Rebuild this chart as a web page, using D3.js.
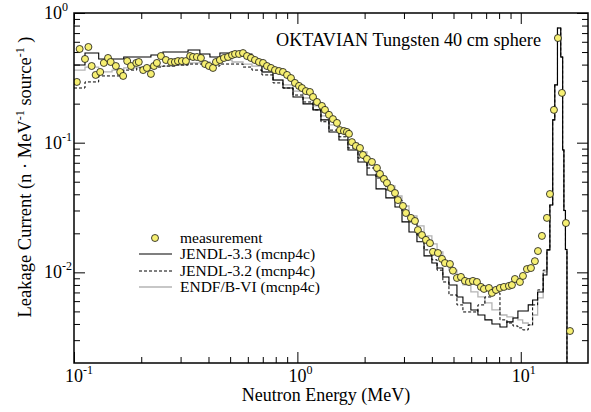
<!DOCTYPE html>
<html>
<head>
<meta charset="utf-8">
<script src="https://cdn.jsdelivr.net/npm/d3@7"></script>
<style>
body { margin: 0; background: #fff; }
text { font-family: "Liberation Serif", "Times New Roman", serif; fill: #000; }
</style>
</head>
<body>
<script>
// measured leakage spectrum (MeV, n/MeV/source)
var measE = [0.103, 0.106, 0.112, 0.116, 0.120, 0.125, 0.131, 0.136, 0.142, 0.146,
  0.154, 0.161, 0.166, 0.173, 0.180, 0.190, 0.195, 0.204, 0.212, 0.221,
  0.228, 0.235, 0.245, 0.258, 0.272, 0.283, 0.292, 0.304, 0.317, 0.331,
  0.341, 0.355, 0.370, 0.386, 0.402, 0.419, 0.432, 0.450, 0.469, 0.489,
  0.510, 0.526, 0.548, 0.571, 0.595, 0.620, 0.646, 0.673, 0.702, 0.731,
  0.762, 0.794, 0.827, 0.862, 0.899, 0.936, 0.975, 1.017, 1.048, 1.092,
  1.138, 1.175, 1.224, 1.288, 1.329, 1.385, 1.443, 1.504, 1.551, 1.616,
  1.667, 1.702, 1.755, 1.829, 1.906, 1.966, 2.049, 2.157, 2.271, 2.343,
  2.441, 2.518, 2.624, 2.735, 2.820, 2.969, 3.062, 3.224, 3.360, 3.465,
  3.612, 3.764, 3.923, 4.046, 4.259, 4.439, 4.578, 4.819, 4.970, 5.179,
  5.398, 5.625, 5.861, 6.108, 6.366, 6.634, 6.843, 7.204, 7.430, 7.743,
  8.068, 8.409, 8.854, 9.131, 9.417, 9.915, 10.23, 10.66, 11.11, 11.57,
  11.94, 12.44, 13.10, 13.51, 14.08, 14.67, 15.29, 15.93, 16.61];
var measY = [0.294, 0.528, 0.442, 0.547, 0.390, 0.333, 0.351, 0.412, 0.450, 0.419,
  0.390, 0.351, 0.327, 0.426, 0.390, 0.412, 0.419, 0.363, 0.377, 0.339,
  0.390, 0.412, 0.466, 0.434, 0.419, 0.419, 0.426, 0.426, 0.426, 0.466,
  0.458, 0.458, 0.450, 0.404, 0.390, 0.377, 0.419, 0.434, 0.450, 0.458,
  0.474, 0.483, 0.483, 0.491, 0.466, 0.450, 0.434, 0.419, 0.412, 0.390,
  0.377, 0.363, 0.357, 0.351, 0.333, 0.315, 0.289, 0.274, 0.264, 0.250,
  0.246, 0.225, 0.206, 0.192, 0.179, 0.164, 0.152, 0.142, 0.125, 0.123,
  0.121, 0.117, 0.101, 0.0943, 0.0910, 0.0804, 0.0749, 0.0710, 0.0638, 0.0574,
  0.0525, 0.0489, 0.0447, 0.0409, 0.0361, 0.0325, 0.0287, 0.0263, 0.0249, 0.0212,
  0.0194, 0.0178, 0.0168, 0.0144, 0.0141, 0.0127, 0.0118, 0.0116, 0.0103, 0.00905,
  0.00922, 0.00859, 0.00843, 0.00859, 0.00843, 0.00772, 0.00745, 0.00758, 0.00694, 0.00732,
  0.00758, 0.00772, 0.00786, 0.00799, 0.00889, 0.00843, 0.00938, 0.0106, 0.0108, 0.0122,
  0.0146, 0.0191, 0.0263, 0.0402, 0.179, 0.641, 0.242, 0.0240, 0.00353];

// energy bin edges of the calculated spectra
var binEdges = [0.1, 0.112, 0.129, 0.148, 0.167, 0.191, 0.221, 0.25, 0.283, 0.324,
  0.366, 0.406, 0.45, 0.51, 0.571, 0.626, 0.694, 0.778, 0.862, 0.956,
  1.06, 1.175, 1.275, 1.385, 1.535, 1.684, 1.867, 2.05, 2.25, 2.49,
  2.735, 2.94, 3.16, 3.43, 3.69, 4.0, 4.22, 4.48, 4.77, 5.18,
  5.51, 5.98, 6.43, 6.91, 7.43, 8.07, 8.67, 9.23, 9.71, 10.2,
  10.8, 11.3, 11.9, 12.6, 13.1, 13.5, 13.9, 14.2, 14.6, 15.1,
  15.4, 15.6, 15.85, 16.1];

var jendl33 = [0.397, 0.491, 0.442, 0.442, 0.458, 0.458, 0.474, 0.500, 0.500, 0.519,
  0.483, 0.458, 0.491, 0.500, 0.483, 0.430, 0.351, 0.304, 0.264, 0.225,
  0.199, 0.179, 0.150, 0.121, 0.105, 0.0879, 0.0710, 0.0564, 0.0440, 0.0375,
  0.0319, 0.0245, 0.0205, 0.0172, 0.0134, 0.0118, 0.0108, 0.00922, 0.00800, 0.00646,
  0.00581, 0.00513, 0.00469, 0.00430, 0.00400, 0.00379, 0.00415, 0.00445, 0.00504, 0.00504,
  0.00561, 0.00612, 0.00706, 0.00955, 0.0149, 0.0331, 0.150, 0.279, 0.766, 0.458,
  0.088, 0.030, 0.015];
var jendl32 = [0.264, 0.294, 0.327, 0.327, 0.363, 0.377, 0.383, 0.390, 0.397, 0.404,
  0.404, 0.390, 0.404, 0.404, 0.383, 0.363, 0.333, 0.289, 0.264, 0.233,
  0.206, 0.179, 0.145, 0.125, 0.111, 0.0910, 0.0761, 0.0638, 0.0534, 0.0432,
  0.0361, 0.0292, 0.0245, 0.0194, 0.0149, 0.0125, 0.0104, 0.00843, 0.00669, 0.00561,
  0.00495, 0.00495, 0.00561, 0.00646, 0.00694, 0.00430, 0.00407, 0.00386, 0.00373, 0.00360,
  0.00393, 0.00561, 0.00732, 0.0104, 0.0149, 0.0331, 0.150, 0.279, 0.766, 0.458,
  0.088, 0.030, 0.015];
var endfb6 = [0.363, 0.383, 0.351, 0.363, 0.377, 0.383, 0.390, 0.390, 0.397, 0.412,
  0.419, 0.404, 0.434, 0.419, 0.404, 0.390, 0.351, 0.304, 0.279, 0.250,
  0.221, 0.192, 0.161, 0.137, 0.121, 0.0995, 0.0848, 0.0673, 0.0553, 0.0464,
  0.0388, 0.0325, 0.0272, 0.0228, 0.0191, 0.0166, 0.0144, 0.0120, 0.0104, 0.00874,
  0.00800, 0.00706, 0.00646, 0.00581, 0.00513, 0.00469, 0.00453, 0.00445, 0.00430, 0.00407,
  0.00393, 0.00469, 0.00635, 0.0101, 0.0149, 0.0331, 0.150, 0.279, 0.766, 0.458,
  0.088, 0.030, 0.015];

var xMajor = [0.1, 1, 10];
var xMajorExp = ["-1", "0", "1"];
var yMajor = [1, 0.1, 0.01];
var yMajorExp = ["0", "-1", "-2"];

var w = 591;
var h = 412;
var pLeft = 74, pRight = 588, pTop = 13, pBottom = 363;

var x = d3.scaleLog().domain([0.1, 20]).range([pLeft, pRight]);
var y = d3.scaleLog().domain([0.002, 1]).range([pBottom, pTop]);

var svg = d3.select("body")
  .append("svg")
  .attr("width", w)
  .attr("height", h);

svg.append("clipPath")
  .attr("id", "plotclip")
  .append("rect")
  .attr("x", pLeft)
  .attr("y", pTop)
  .attr("width", pRight - pLeft)
  .attr("height", pBottom - pTop);

// minor ticks 2..9 per decade inside a domain
function minors(dom) {
  var t = [];
  for (var d = Math.pow(10, Math.floor(Math.log10(dom[0]) + 1e-9)); d < dom[1]; d *= 10) {
    for (var m = 2; m <= 9; m++) {
      var v = m * d;
      if (v > dom[0] * 1.0001 && v < dom[1] * 0.9999) t.push(v);
    }
  }
  return t;
}
var xMinor = minors(x.domain());
var yMinor = minors(y.domain());

function tickAxis(axis, vals, size) {
  return axis.tickValues(vals).tickSize(-size).tickFormat("").tickSizeOuter(0);
}
var axes = [
  [function() { return d3.axisBottom(x); }, "translate(0," + pBottom + ")", xMajor, xMinor],
  [function() { return d3.axisTop(x); }, "translate(0," + pTop + ")", xMajor, xMinor],
  [function() { return d3.axisLeft(y); }, "translate(" + pLeft + ",0)", yMajor, yMinor],
  [function() { return d3.axisRight(y); }, "translate(" + pRight + ",0)", yMajor, yMinor]
];
axes.forEach(function(a) {
  var g1 = svg.append("g").attr("transform", a[1]).call(tickAxis(a[0](), a[2], 11));
  g1.select(".domain").remove();
  var g2 = svg.append("g").attr("transform", a[1]).call(tickAxis(a[0](), a[3], 6));
  g2.select(".domain").remove();
});
svg.selectAll(".tick line").attr("stroke", "#000").attr("stroke-width", 1);

// histograms
function stepData(vals) {
  var pts = vals.map(function(v, i) { return [binEdges[i], v]; });
  var last = binEdges[binEdges.length - 1];
  pts.push([last, vals[vals.length - 1]]);
  pts.push([last, y.domain()[0] * 0.5]);
  return pts;
}
var line = d3.line()
  .x(function(d) { return x(d[0]); })
  .y(function(d) { return y(d[1]); })
  .curve(d3.curveStepAfter);

var series = [
  { name: "ENDF/B-VI (mcnp4c)", vals: endfb6, stroke: "#b4b4b4", width: 1.3, dash: null },
  { name: "JENDL-3.2 (mcnp4c)", vals: jendl32, stroke: "#000", width: 1, dash: "3,2" },
  { name: "JENDL-3.3 (mcnp4c)", vals: jendl33, stroke: "#000", width: 1.1, dash: null }
];
var plot = svg.append("g").attr("clip-path", "url(#plotclip)");
series.forEach(function(s) {
  plot.append("path")
    .attr("d", line(stepData(s.vals)))
    .attr("fill", "none")
    .attr("stroke", s.stroke)
    .attr("stroke-width", s.width)
    .attr("stroke-dasharray", s.dash);
});

plot.selectAll("circle")
  .data(measE)
  .enter()
  .append("circle")
  .attr("cx", function(d) { return x(d); })
  .attr("cy", function(d, i) { return y(measY[i]); })
  .attr("r", 3.5)
  .attr("fill", "#f6ef72")
  .attr("stroke", "#111")
  .attr("stroke-width", 0.8);

// frame
svg.append("rect")
  .attr("x", pLeft)
  .attr("y", pTop)
  .attr("width", pRight - pLeft)
  .attr("height", pBottom - pTop)
  .attr("fill", "none")
  .attr("stroke", "#000")
  .attr("stroke-width", 1.5);

// tick labels
xMajor.forEach(function(v, i) {
  var t = svg.append("text")
    .attr("x", x(v) - 9)
    .attr("y", 382)
    .attr("font-size", "18px")
    .text("10");
  t.append("tspan").attr("dy", -8).attr("font-size", "12px").text(xMajorExp[i]);
});
yMajor.forEach(function(v, i) {
  var t = svg.append("text")
    .attr("x", 44)
    .attr("y", y(v) + 6)
    .attr("font-size", "18px")
    .text("10");
  t.append("tspan").attr("dy", -8).attr("font-size", "12px").text(yMajorExp[i]);
});

// axis titles
svg.append("text")
  .attr("x", 326)
  .attr("y", 401)
  .attr("text-anchor", "middle")
  .attr("font-size", "18px")
  .text("Neutron Energy (MeV)");

var yl = svg.append("text")
  .attr("transform", "translate(31,177) rotate(-90)")
  .attr("text-anchor", "middle")
  .attr("font-size", "18.5px");
yl.append("tspan").text("Leakage Current (n \u00b7 MeV");
yl.append("tspan").attr("dy", -7).attr("font-size", "12px").text("-1");
yl.append("tspan").attr("dy", 7).text(" source");
yl.append("tspan").attr("dy", -7).attr("font-size", "12px").text("-1");
yl.append("tspan").attr("dy", 7).text(" )");

svg.append("text")
  .attr("x", 541)
  .attr("y", 46)
  .attr("text-anchor", "end")
  .attr("font-size", "18.2px")
  .text("OKTAVIAN Tungsten 40 cm sphere");

// legend
var legend = svg.append("g");
var rows = [238, 254, 271, 287];
legend.append("circle")
  .attr("cx", 155).attr("cy", rows[0]).attr("r", 3.5)
  .attr("fill", "#f6ef72").attr("stroke", "#111").attr("stroke-width", 0.8);
legend.append("text").attr("x", 180).attr("y", rows[0] + 5)
  .attr("font-size", "15.5px").text("measurement");
series.slice().reverse().forEach(function(s, i) {
  var ry = rows[i + 1];
  legend.append("line")
    .attr("x1", 139).attr("x2", 172).attr("y1", ry).attr("y2", ry)
    .attr("stroke", s.stroke).attr("stroke-width", s.width)
    .attr("stroke-dasharray", s.dash);
  legend.append("text").attr("x", 180).attr("y", ry + 5)
    .attr("font-size", "15.5px").text(s.name);
});
</script>
</body>
</html>
